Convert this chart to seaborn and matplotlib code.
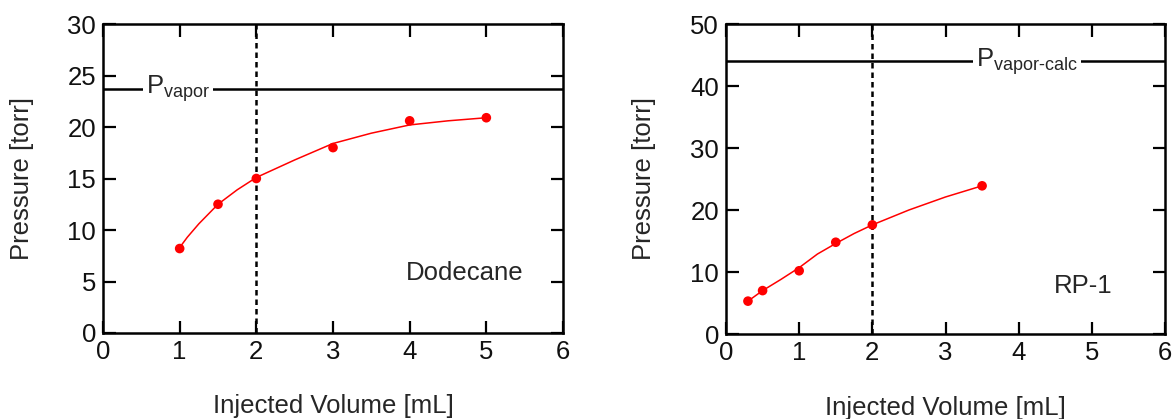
import numpy as np
import pandas as pd
import matplotlib
matplotlib.use("Agg")
import matplotlib.pyplot as plt
import seaborn as sns

# measured points
dod_vol = [1.0, 1.5, 2.0, 3.0, 4.0, 5.0]
dod_p = [8.2, 12.5, 15.0, 18.0, 20.6, 20.9]
rp1_vol = [0.3, 0.5, 1.0, 1.5, 2.0, 3.5]
rp1_p = [5.3, 7.0, 10.2, 14.8, 17.6, 23.9]

# fitted curves
dod_fit_vol = [1.0, 1.1, 1.25, 1.5, 1.75, 2.0, 2.5, 3.0, 3.5, 4.0, 4.5, 5.0]
dod_fit_p = [8.3, 9.3, 10.6, 12.5, 13.9, 15.1, 16.8, 18.4, 19.4, 20.2, 20.6, 20.9]
rp1_fit_vol = [0.3, 0.5, 0.75, 1.0, 1.25, 1.5, 1.75, 2.0, 2.5, 3.0, 3.5]
rp1_fit_p = [5.3, 7.0, 8.8, 10.7, 12.9, 14.6, 16.2, 17.6, 20.0, 22.1, 23.9]

p_vapor = 23.7
p_vapor_calc = 44.0

sns.set_style("ticks")
plt.rcParams['font.family'] = ['Liberation Sans', 'DejaVu Sans']
plt.rcParams['mathtext.fontset'] = 'custom'
plt.rcParams['mathtext.rm'] = 'Liberation Sans'
plt.rcParams['mathtext.it'] = 'Liberation Sans'

fig = plt.figure(figsize=(11.76, 4.19), dpi=100)
ax1 = fig.add_axes([103/1176, 1 - 333/419, 460/1176, 309/419])
ax2 = fig.add_axes([726/1176, 1 - 334/419, 439/1176, 310/419])

FS = 18.5


def style_axes(ax, ymax, ystep):
    ax.set_xlim(0, 6)
    ax.set_ylim(0, ymax)
    ax.set_xticks(range(0, 7))
    ax.set_yticks(np.arange(0, ymax + 1, ystep))
    ax.tick_params(direction='in', top=True, right=True, length=9, width=1.6,
                   labelsize=FS, pad=5, color='black', labelcolor='#111111')
    for s in ax.spines.values():
        s.set_linewidth(1.8)
        s.set_color('black')
    ax.set_xlabel("Injected Volume [mL]", fontsize=FS, labelpad=22)
    ax.set_ylabel("Pressure [torr]", fontsize=FS)


def draw_panel(ax, vol, p, fit_vol, fit_p, pline, ptxt, px, name, nx, ny):
    ax.axhline(pline, color='black', lw=1.8, zorder=1)
    ax.axvline(2, color='black', lw=1.8, ls=(0, (2.2, 1.6)), zorder=2)
    sns.lineplot(x=fit_vol, y=fit_p, ax=ax, color='red', lw=1.1, zorder=3)
    sns.scatterplot(x=vol, y=p, ax=ax, color='red', s=48, edgecolor='none', zorder=4)
    ax.text(px, pline, ptxt, fontsize=FS, va='center', ha='left', zorder=5,
            bbox=dict(facecolor='white', edgecolor='none', pad=2))
    ax.text(nx, ny, name, fontsize=FS, va='center', ha='left')


draw_panel(ax1, dod_vol, dod_p, dod_fit_vol, dod_fit_p, p_vapor,
           r'P$_{\mathrm{vapor}}$', 0.56, 'Dodecane', 3.95, 5.8)
style_axes(ax1, 30, 5)
ax1.yaxis.set_label_coords(-0.15, 0.5)

draw_panel(ax2, rp1_vol, rp1_p, rp1_fit_vol, rp1_fit_p, p_vapor_calc,
           r'P$_{\mathrm{vapor\text{-}calc}}$', 3.42, 'RP-1', 4.48, 7.8)
style_axes(ax2, 50, 10)
ax2.yaxis.set_label_coords(-0.16, 0.5)

fig.savefig("out.png", dpi=100)
